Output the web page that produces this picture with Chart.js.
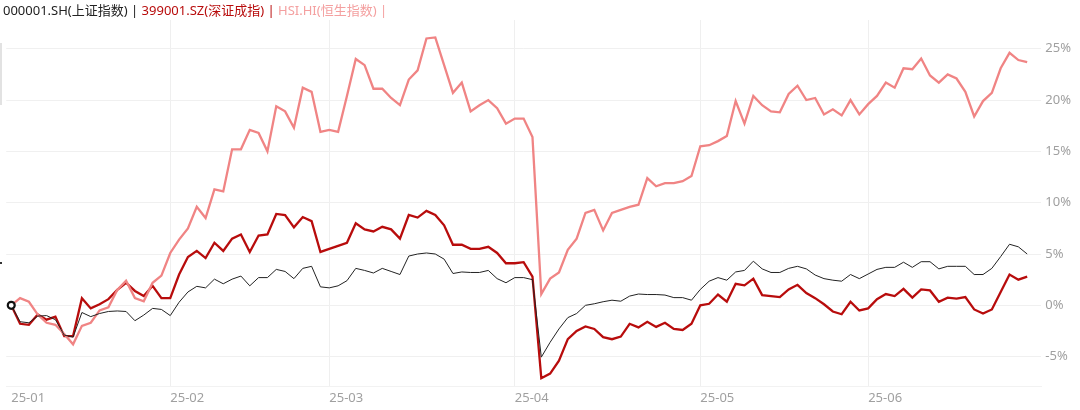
<!DOCTYPE html>
<html>
<head>
<meta charset="utf-8">
<script src="https://cdn.jsdelivr.net/npm/chart.js@4.4.1/dist/chart.umd.min.js"></script>
<style>
  html, body { margin: 0; padding: 0; background: #fff; }
  #wrap { position: relative; width: 1080px; height: 410px; }
  #legend { position: absolute; left: 3px; top: 3px; font-size: 13px; line-height: 15px;
            font-family: "Noto Sans", "Noto Sans CJK SC", sans-serif; white-space: pre; }
  #bar { position: absolute; left: 0; top: 43px; width: 2px; height: 62px; background: #e2e2e2; }
  #dot { position: absolute; left: 0; top: 262px; width: 2px; height: 2px; background: #333; }
</style>
</head>
<body>
<div id="wrap">
  <canvas id="chart" width="1080" height="410"></canvas>
  <div id="legend"></div>
  <div id="bar"></div>
  <div id="dot"></div>
</div>
<script>
// trading days (A-share), 2025-01-02 .. 2025-06-27
const days = [
  "01-02","01-03","01-06","01-07","01-08","01-09","01-10","01-13","01-14","01-15",
  "01-16","01-17","01-20","01-21","01-22","01-23","01-24","01-27",
  "02-05","02-06","02-07","02-10","02-11","02-12","02-13","02-14","02-17","02-18",
  "02-19","02-20","02-21","02-24","02-25","02-26","02-27","02-28",
  "03-03","03-04","03-05","03-06","03-07","03-10","03-11","03-12","03-13","03-14",
  "03-17","03-18","03-19","03-20","03-21","03-24","03-25","03-26","03-27","03-28","03-31",
  "04-01","04-02","04-03","04-07","04-08","04-09","04-10","04-11","04-14","04-15",
  "04-16","04-17","04-18","04-21","04-22","04-23","04-24","04-25","04-28","04-29","04-30",
  "05-06","05-07","05-08","05-09","05-12","05-13","05-14","05-15","05-16","05-19",
  "05-20","05-21","05-22","05-23","05-26","05-27","05-28","05-29","05-30",
  "06-03","06-04","06-05","06-06","06-09","06-10","06-11","06-12","06-13","06-16",
  "06-17","06-18","06-19","06-20","06-23","06-24","06-25","06-26","06-27"
];

// cumulative change, %
const sh = [
  0, -1.6, -1.7, -1.05, -1.0, -1.4, -2.9, -3.1, -0.7, -1.1,
  -0.8, -0.6, -0.55, -0.6, -1.5, -0.95, -0.3, -0.4, -1.0, 0.3,
  1.3, 1.85, 1.7, 2.55, 2.1, 2.55, 2.85, 1.9, 2.7, 2.7,
  3.5, 3.3, 2.6, 3.6, 3.8, 1.8, 1.7, 1.9, 2.4, 3.6,
  3.4, 3.15, 3.6, 3.3, 3.0, 4.8, 5.0, 5.1, 5.0, 4.5,
  3.1, 3.25, 3.2, 3.2, 3.4, 2.6, 2.2, 2.7, 2.7, 2.5,
  -5.05, -3.6, -2.3, -1.2, -0.8, 0.0, 0.15, 0.35, 0.5, 0.4,
  0.9, 1.1, 1.05, 1.05, 1.0, 0.75, 0.75, 0.5, 1.55, 2.35,
  2.7, 2.45, 3.25, 3.4, 4.3, 3.55, 3.2, 3.2, 3.6, 3.8,
  3.55, 2.95, 2.6, 2.45, 2.35, 3.0, 2.6, 3.05, 3.5, 3.7,
  3.7, 4.2, 3.7, 4.25, 4.25, 3.55, 3.8, 3.8, 3.8, 3.0,
  3.0, 3.6, 4.75, 5.95, 5.7, 5.0
];
const sz = [
  0, -1.8, -1.9, -0.9, -1.4, -1.1, -3.0, -3.0, 0.7, -0.3,
  0.1, 0.6, 1.5, 2.2, 1.4, 0.9, 1.9, 0.7, 0.7, 3.0,
  4.7, 5.3, 4.6, 6.1, 5.3, 6.5, 6.9, 5.2, 6.8, 6.9,
  8.9, 8.8, 7.6, 8.6, 8.2, 5.2, 5.5, 5.8, 6.1, 8.0,
  7.4, 7.2, 7.65, 7.4, 6.5, 8.8, 8.55, 9.2, 8.8, 7.8,
  5.9, 5.9, 5.5, 5.5, 5.7, 5.1, 4.1, 4.1, 4.2, 2.8,
  -7.1, -6.65, -5.4, -3.3, -2.5, -2.05, -2.3, -3.1, -3.3, -3.05,
  -1.8, -2.15, -1.6, -2.1, -1.7, -2.3, -2.4, -1.8, 0.0, 0.15,
  1.05, 0.35, 2.1, 1.95, 2.6, 1.0, 0.9, 0.8, 1.55, 2.0,
  1.2, 0.7, 0.1, -0.6, -0.87, 0.35, -0.5, -0.3, 0.6, 1.1,
  0.9, 1.6, 0.75, 1.55, 1.45, 0.35, 0.75, 0.65, 0.8, -0.4,
  -0.8, -0.4, 1.3, 3.0, 2.5, 2.8
];
const hsi = [
  0, 0.7, 0.35, -0.9, -1.7, -1.9, -2.8, -3.8, -2.0, -1.7,
  -0.5, -0.2, 1.5, 2.4, 0.7, 0.4, 2.2, 2.9, 5.1, 6.4,
  7.5, 9.6, 8.5, 11.3, 11.1, 15.2, 15.2, 17.1, 16.8, 15.0,
  19.4, 18.9, 17.3, 21.2, 20.8, 16.9, 17.1, 16.9, 20.4, 24.0,
  23.4, 21.1, 21.1, 20.2, 19.5, 22.0, 22.9, 26.0, 26.1, 23.4,
  20.7, 21.7, 18.9, 19.5, 20.0, 19.2, 17.7, 18.2, 18.2, 16.4,
  1.1, 2.6, 3.2, 5.4, 6.5, 9.0, 9.3, 7.3, 9.0, 9.3,
  9.6, 9.8, 12.4, 11.6, 11.9, 11.9, 12.1, 12.6, 15.5, 15.6,
  16.0, 16.5, 19.9, 17.7, 20.4, 19.5, 18.9, 18.8, 20.6, 21.4,
  20.0, 20.2, 18.6, 19.1, 18.5, 20.0, 18.6, 19.6, 20.4, 21.7,
  21.2, 23.1, 23.0, 24.05, 22.4, 21.7, 22.5, 22.1, 20.8, 18.4,
  19.9, 20.7, 23.1, 24.6, 23.9, 23.7
];

const yTicks = [-5, 0, 5, 10, 15, 20, 25];

const names = ["000001.SH(上证指数)", "399001.SZ(深证成指)", "HSI.HI(恒生指数)"];
const colors = ["#222222", "#b80c0c", "#f08484"];

// first trading day of each month -> tick
const monthTicks = [];
days.forEach((d, i) => {
  if (i === 0 || d.slice(0, 2) !== days[i - 1].slice(0, 2)) monthTicks.push(i);
});

document.getElementById("legend").innerHTML = names
  .map((n, i) => `<span style="color:${i === 2 ? "#f4a0a0" : colors[i]}">${n} |</span>`)
  .join(" ");

function pts(arr) {
  return arr.map((v, i) => ({ x: i, y: v }));
}

Chart.defaults.font.family = '"Noto Sans", "Noto Sans CJK SC", sans-serif';

new Chart(document.getElementById("chart").getContext("2d"), {
  type: "line",
  data: {
    datasets: [
      {
        label: names[0],
        data: pts(sh),
        borderColor: colors[0],
        borderWidth: 1,
        pointRadius: (ctx) => (ctx.dataIndex === 0 ? 3.5 : 0),
        pointBackgroundColor: "#fff",
        pointBorderColor: "#111",
        pointBorderWidth: 2.2,
        order: 0,
      },
      {
        label: names[1],
        data: pts(sz),
        borderColor: colors[1],
        borderWidth: 2.3,
        pointRadius: 0,
        order: 2,
      },
      {
        label: names[2],
        data: pts(hsi),
        borderColor: colors[2],
        borderWidth: 2.3,
        pointRadius: 0,
        order: 1,
      },
    ],
  },
  options: {
    responsive: false,
    animation: false,
    layout: { padding: { left: 3, right: 5, top: 20, bottom: 0 } },
    plugins: { legend: { display: false }, tooltip: { enabled: false } },
    scales: {
      x: {
        type: "linear",
        min: -0.57,
        max: 116.6,
        afterBuildTicks: (scale) => {
          scale.ticks = monthTicks.map((v) => ({ value: v }));
        },
        grid: {
          color: (ctx) => (ctx.tick && ctx.tick.value === 0 ? "rgba(0,0,0,0)" : "#efefef"),
          drawTicks: false,
        },
        border: { display: true, color: "#f2f2f2" },
        ticks: {
          autoSkip: false,
          maxRotation: 0,
          align: "start",
          padding: 4,
          color: "#a0a0a0",
          font: { size: 13 },
          callback: (v) => "25-" + days[v].slice(0, 2),
        },
      },
      y: {
        position: "right",
        min: -7.9,
        max: 27.8,
        afterBuildTicks: (scale) => {
          scale.ticks = yTicks.map((v) => ({ value: v }));
        },
        grid: { color: "#f0f0f0", drawTicks: false },
        border: { display: false },
        ticks: {
          padding: 4,
          color: "#a0a0a0",
          font: { size: 13 },
          callback: (v) => v + "%",
        },
      },
    },
  },
});
</script>
</body>
</html>
